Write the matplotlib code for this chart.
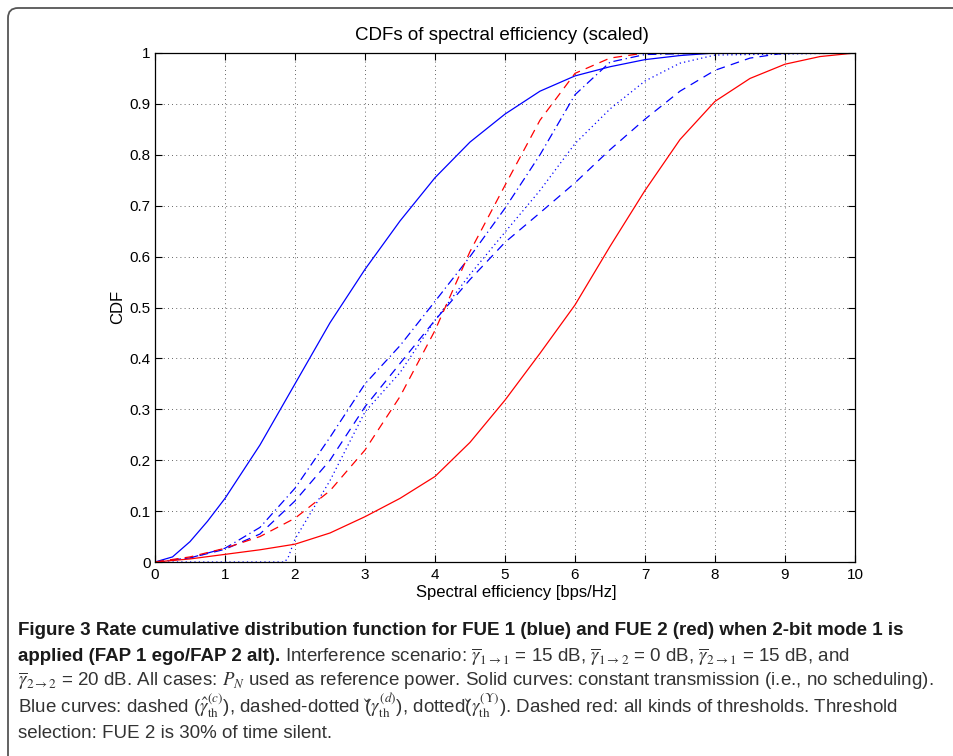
import numpy as np
import matplotlib.pyplot as plt
from matplotlib.path import Path
from matplotlib.patches import PathPatch
from matplotlib.transforms import IdentityTransform

# values
blue_solid_x = [0, 0.25, 0.5, 0.75, 1, 1.5, 2, 2.5, 3, 3.5, 4, 4.5, 5, 5.5, 6, 6.5, 7, 7.5, 8, 10]
blue_solid_y = [0, 0.01, 0.04, 0.08, 0.125, 0.23, 0.35, 0.47, 0.575, 0.67, 0.755, 0.825,
                0.88, 0.925, 0.955, 0.973, 0.987, 0.995, 1.0, 1.0]

blue_dash_x = [0, 0.5, 1, 1.5, 2, 2.5, 3, 3.5, 4, 4.5, 5, 5.5, 6, 6.5, 7, 7.5, 8, 8.5, 9, 10]
blue_dash_y = [0, 0.008, 0.025, 0.055, 0.12, 0.2, 0.305, 0.39, 0.475, 0.555, 0.628, 0.686,
               0.745, 0.81, 0.87, 0.925, 0.966, 0.99, 1.0, 1.0]

blue_dashdot_x = [0, 0.5, 1, 1.5, 2, 2.5, 3, 3.5, 4, 4.5, 5, 5.5, 6, 6.5, 7, 8, 10]
blue_dashdot_y = [0, 0.008, 0.027, 0.068, 0.145, 0.245, 0.35, 0.425, 0.512, 0.6, 0.695,
                  0.8, 0.918, 0.982, 0.997, 1.0, 1.0]

blue_dot_x = [0, 1, 1.85, 1.9, 2, 2.5, 3, 3.5, 4, 4.5, 5, 5.5, 6, 6.5, 7, 7.5, 8, 10]
blue_dot_y = [0, 0, 0, 0.008, 0.045, 0.16, 0.295, 0.372, 0.475, 0.565, 0.648, 0.73,
              0.822, 0.89, 0.945, 0.98, 0.996, 1.0]

red_solid_x = [0, 0.5, 1, 1.5, 2, 2.5, 3, 3.5, 4, 4.5, 5, 5.5, 6, 6.5, 7, 7.5, 8, 8.5, 9, 9.5, 10]
red_solid_y = [0, 0.006, 0.015, 0.024, 0.035, 0.057, 0.089, 0.125, 0.168, 0.235, 0.318,
               0.41, 0.505, 0.62, 0.73, 0.83, 0.905, 0.95, 0.978, 0.993, 1.0]

red_dash_x = [0, 0.5, 1, 1.5, 2, 2.5, 3, 3.5, 4, 4.5, 5, 5.5, 6, 6.5, 7, 10]
red_dash_y = [0, 0.01, 0.027, 0.05, 0.086, 0.14, 0.22, 0.325, 0.455, 0.61, 0.74, 0.868,
              0.96, 0.99, 1.0, 1.0]

xticks = list(range(0, 11))
yticks = [0, 0.1, 0.2, 0.3, 0.4, 0.5, 0.6, 0.7, 0.8, 0.9, 1]
ytick_labels = ["0", "0.1", "0.2", "0.3", "0.4", "0.5", "0.6", "0.7", "0.8", "0.9", "1"]

caption_lines = [
    [("Figure 3 Rate cumulative distribution function for FUE 1 (blue) and FUE 2 (red) "
      "when 2-bit mode 1 is", "bold")],
    [("applied (FAP 1 ego/FAP 2 alt).", "bold"),
     (" Interference scenario: $\\overline{\\gamma}_{1\\rightarrow 1}$ = 15 dB, "
      "$\\overline{\\gamma}_{1\\rightarrow 2}$ = 0 dB, $\\overline{\\gamma}_{2\\rightarrow 1}$ = 15 dB, and",
      "normal")],
    [("$\\overline{\\gamma}_{2\\rightarrow 2}$ = 20 dB. All cases: $P_N$ used as reference power. "
      "Solid curves: constant transmission (i.e., no scheduling).", "normal")],
    [("Blue curves: dashed ($\\hat{\\gamma}_{\\mathrm{th}}^{(c)}$), dashed-dotted "
      "($\\check{\\gamma}_{\\mathrm{th}}^{(d)}$), dotted($\\check{\\gamma}_{\\mathrm{th}}^{(\\Upsilon)}$). "
      "Dashed red: all kinds of thresholds. Threshold", "normal")],
    [("selection: FUE 2 is 30% of time silent.", "normal")],
]

plt.rcParams["font.family"] = ["Liberation Sans", "DejaVu Sans"]
plt.rcParams["mathtext.fontset"] = "stix"

W, H = 954, 756
fig = plt.figure(figsize=(W / 100, H / 100), dpi=100)

# rounded frame, only top and left edges visible
r = 10
verts = [(8, 0), (8, H - 8 - r), (8, H - 8), (8 + r, H - 8), (W + 5, H - 8)]
codes = [Path.MOVETO, Path.LINETO, Path.CURVE3, Path.CURVE3, Path.LINETO]
fig.add_artist(PathPatch(Path(verts, codes), transform=IdentityTransform(),
                         fill=False, edgecolor="#555555", lw=1.3))

ax = fig.add_axes([155 / W, 1 - 562 / H, 700 / W, 509 / H])

ax.plot(blue_solid_x, blue_solid_y, color="#0000ff", lw=0.9)
ax.plot(blue_dash_x, blue_dash_y, color="#0000ff", lw=0.9, linestyle=(0, (7, 5)))
ax.plot(blue_dashdot_x, blue_dashdot_y, color="#0000ff", lw=0.9, linestyle=(0, (7, 3, 1, 3)))
ax.plot(blue_dot_x, blue_dot_y, color="#0000ff", lw=0.9, linestyle=(0, (1, 2.5)))
ax.plot(red_solid_x, red_solid_y, color="#ff0000", lw=0.9)
ax.plot(red_dash_x, red_dash_y, color="#ff0000", lw=0.9, linestyle=(0, (7, 5)))

ax.set_xlim(0, 10)
ax.set_ylim(0, 1)
ax.set_xticks(xticks)
ax.set_yticks(yticks)
ax.set_yticklabels(ytick_labels)
ax.tick_params(direction="in", top=True, right=True, length=5, width=0.8,
               labelsize=11, colors="black")
ax.tick_params(axis="y", pad=3)
ax.tick_params(axis="x", pad=4)
ax.grid(True, color="#333333", linestyle=(0, (1, 4)), lw=0.6)
for sp in ax.spines.values():
    sp.set_linewidth(0.9)
    sp.set_color("black")

fig.text(502 / W, 1 - 35 / H, "CDFs of spectral efficiency (scaled)",
         ha="center", va="center", fontsize=13.5)
fig.text(516 / W, 1 - 592 / H, "Spectral efficiency [bps/Hz]",
         ha="center", va="center", fontsize=12)
fig.text(118 / W, 1 - 307 / H, "CDF", ha="center", va="center",
         rotation=90, fontsize=12)

# caption: one font size, small enough that every line fits its width
renderer = fig.canvas.get_renderer()
cap_family = ["Liberation Sans", "DejaVu Sans"]
cap_x0 = 18
line_base = [635, 661, 686, 713, 738]
line_w = [917, 910, 917, 922, None]
base = 14
size = base
for frags, target in zip(caption_lines, line_w):
    if target is None:
        continue
    wpx = 0
    for text, weight in frags:
        t = fig.text(0, 0, text, fontsize=base, fontweight=weight, family=cap_family)
        wpx += t.get_window_extent(renderer).width
        t.remove()
    size = min(size, base * target / wpx)

for frags, yy in zip(caption_lines, line_base):
    x = cap_x0
    for text, weight in frags:
        col = "#1a1a1a" if weight == "bold" else "#333333"
        t = fig.text(x / W, 1 - yy / H, text, fontsize=size, fontweight=weight,
                     family=cap_family, color=col, ha="left", va="baseline")
        x += t.get_window_extent(renderer).width

fig.savefig("out.png", dpi=100)
